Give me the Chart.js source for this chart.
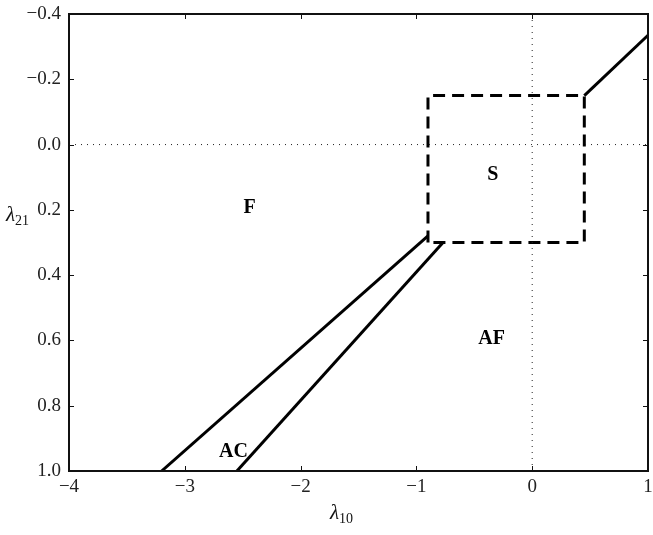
<!DOCTYPE html>
<html>
<head>
<meta charset="utf-8">
<script src="https://cdn.jsdelivr.net/npm/chart.js@4.4.1/dist/chart.umd.min.js"></script>
<style>
  body { margin: 0; background: #fff; }
  #wrap { width: 653px; height: 535px; }
</style>
</head>
<body>
<div id="wrap"><canvas id="phaseChart" width="653" height="535"></canvas></div>
<script>
// Frontières du diagramme de phase (lambda10, lambda21)
const borneHaute = [{x: -3.2, y: 1.0}, {x: -0.9, y: 0.28}];
const borneBasse = [{x: -2.55, y: 1.0}, {x: -0.77, y: 0.3}];
const cadreS = [{x: -0.9, y: 0.3}, {x: -0.9, y: -0.15}, {x: 0.45, y: -0.15}, {x: 0.45, y: 0.3}, {x: -0.9, y: 0.3}];
const borneDroite = [{x: 0.45, y: -0.15}, {x: 1.0, y: -0.335}];
const axeZeroH = [{x: -4, y: 0}, {x: 1, y: 0}];
const axeZeroV = [{x: 0, y: -0.4}, {x: 0, y: 1.0}];

// Noms des régions et leur position
const regionNoms = ['F', 'S', 'AF', 'AC'];
const regionX = [-2.44, -0.34, -0.35, -2.58];
const regionY = [0.195, 0.093, 0.596, 0.94];

const xTicks = [-4, -3, -2, -1, 0, 1];
const yTicks = [-0.4, -0.2, 0.0, 0.2, 0.4, 0.6, 0.8, 1.0];

const serif = '"Liberation Serif", "DejaVu Serif", serif';

function moins(s) {
  return s.replace('-', '\u2212');
}

// Cadre, graduations intérieures, titres et noms des régions
const decor = {
  id: 'decor',
  afterDatasetsDraw(chart) {
    const ctx = chart.ctx;
    const a = chart.chartArea;
    const sx = chart.scales.x;
    const sy = chart.scales.y;
    ctx.save();
    ctx.strokeStyle = '#111';
    ctx.lineWidth = 1;
    ctx.setLineDash([]);
    ctx.beginPath();
    xTicks.forEach(v => {
      const px = Math.round(sx.getPixelForValue(v)) + 0.5;
      ctx.moveTo(px, a.bottom); ctx.lineTo(px, a.bottom - 5);
      ctx.moveTo(px, a.top); ctx.lineTo(px, a.top + 5);
    });
    yTicks.forEach(v => {
      const py = Math.round(sy.getPixelForValue(v)) + 0.5;
      ctx.moveTo(a.left, py); ctx.lineTo(a.left + 5, py);
      ctx.moveTo(a.right, py); ctx.lineTo(a.right - 5, py);
    });
    ctx.stroke();

    ctx.lineWidth = 2;
    ctx.strokeRect(a.left, a.top, a.right - a.left, a.bottom - a.top);

    ctx.fillStyle = '#000';
    ctx.font = 'bold 20px ' + serif;
    ctx.textAlign = 'center';
    ctx.textBaseline = 'middle';
    regionNoms.forEach((n, i) => {
      ctx.fillText(n, sx.getPixelForValue(regionX[i]), sy.getPixelForValue(regionY[i]));
    });

    // Titres des axes avec indice
    ctx.textAlign = 'left';
    ctx.textBaseline = 'alphabetic';
    ctx.fillStyle = '#111';
    ctx.font = 'italic 21px ' + serif;
    ctx.fillText('\u03bb', 6, 221);
    let w = ctx.measureText('\u03bb').width;
    ctx.font = '14px ' + serif;
    ctx.fillText('21', 6 + w, 225);

    ctx.font = 'italic 21px ' + serif;
    ctx.fillText('\u03bb', 330, 519);
    w = ctx.measureText('\u03bb').width;
    ctx.font = '14px ' + serif;
    ctx.fillText('10', 330 + w, 523);
    ctx.restore();
  }
};

const trait = (pts, extra) => Object.assign({
  data: pts,
  showLine: true,
  borderColor: '#000',
  borderWidth: 3,
  pointRadius: 0,
  fill: false
}, extra || {});

const data = {
  datasets: [
    trait(axeZeroH, {borderColor: '#222', borderWidth: 1, borderDash: [1, 5]}),
    trait(axeZeroV, {borderColor: '#222', borderWidth: 1, borderDash: [1, 5]}),
    trait(borneHaute),
    trait(borneBasse),
    trait(borneDroite),
    trait(cadreS, {borderDash: [12, 7], borderCapStyle: 'butt'})
  ]
};

const config = {
  type: 'scatter',
  data: data,
  options: {
    responsive: false,
    animation: false,
    layout: { padding: { top: 14, right: 5, left: 0, bottom: 0 } },
    plugins: { legend: { display: false }, tooltip: { enabled: false } },
    scales: {
      x: {
        type: 'linear',
        min: -4,
        max: 1,
        grid: { display: false, drawTicks: false },
        border: { display: false },
        afterFit(s) { s.height = 64; s.paddingLeft = 0; s.paddingRight = 0; },
        afterBuildTicks(s) { s.ticks = xTicks.map(v => ({value: v})); },
        ticks: {
          padding: 5,
          color: '#222',
          font: { family: serif, size: 19 },
          callback: v => moins(String(v))
        }
      },
      y: {
        type: 'linear',
        reverse: true,
        min: -0.4,
        max: 1.0,
        grid: { display: false, drawTicks: false },
        border: { display: false },
        afterFit(s) { s.width = 69; s.paddingTop = 0; s.paddingBottom = 0; },
        afterBuildTicks(s) { s.ticks = yTicks.map(v => ({value: v})); },
        ticks: {
          padding: 8,
          color: '#222',
          font: { family: serif, size: 19 },
          callback: v => moins(Number(v).toFixed(1))
        }
      }
    }
  },
  plugins: [decor]
};

const phaseChart = new Chart(document.getElementById('phaseChart'), config);
</script>
</body>
</html>
